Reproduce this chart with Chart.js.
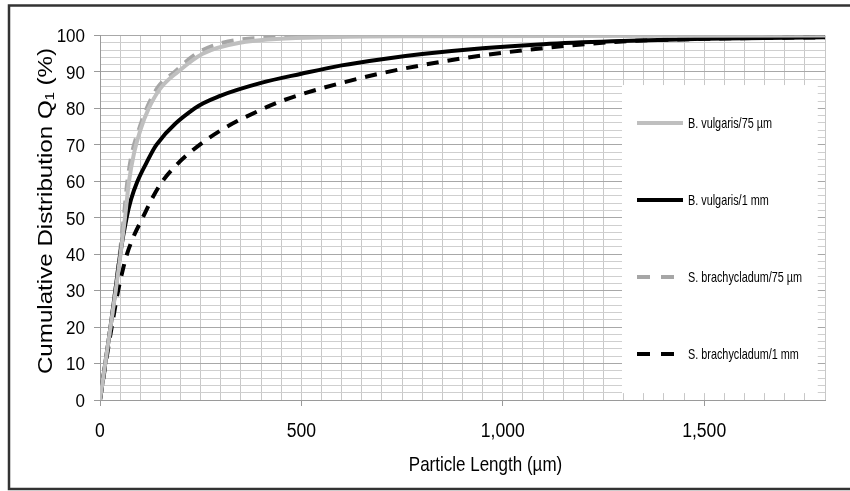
<!DOCTYPE html>
<html><head><meta charset="utf-8">
<script src="https://cdn.jsdelivr.net/npm/chart.js@4/dist/chart.umd.min.js"></script>
<style>html,body{margin:0;padding:0;background:#fff}#wrap{width:850px;height:491px;position:relative}canvas{display:block}</style>
</head><body><div id="wrap"><canvas id="c" width="850" height="491"></canvas></div>
<script>
// ---- data ----
const seriesNames = ['B. vulgaris/75 µm', 'B. vulgaris/1 mm', 'S. brachycladum/75 µm', 'S. brachycladum/1 mm'];

const bv75X = [0, 13, 26, 39, 51, 62, 72, 85, 100, 121, 150, 193, 255, 347, 555, 800, 1800];
const bv75Y = [0, 10, 20, 30, 40, 50, 60, 68, 74, 80, 85.5, 90, 95, 98, 99.5, 99.8, 100];

const bv1X = [0, 13, 26, 38, 50, 66, 77, 93, 115, 140, 235, 300, 400, 500, 600, 700, 800, 950, 1100, 1272, 1500, 1800];
const bv1Y = [0, 10, 20, 30, 40, 50, 55, 60, 65, 70, 80, 83.5, 87, 89.5, 91.8, 93.5, 94.9, 96.5, 97.6, 98.4, 99.1, 99.5];

const sb75X = [0, 13, 26, 38, 49, 59, 68, 80, 96, 116, 145, 185, 239, 305, 440, 700, 1800];
const sb75Y = [0, 10, 20, 30, 40, 50, 60, 68, 74, 80, 86, 90, 95, 98, 99.5, 99.9, 100];

const sb1X = [0, 14, 29, 45, 55, 67, 84, 106, 128, 155, 190, 230, 300, 397, 455, 550, 697, 822, 947, 1115, 1272, 1500, 1800];
const sb1Y = [0, 10, 20, 30, 35, 40, 45, 50, 55, 60, 64.5, 68.5, 74, 79.5, 82.2, 85.5, 89.6, 92.3, 94.5, 96.7, 98.2, 99.1, 99.5];

const xMin = 0, xMax = 1800, xGridStep = 50, xLabelStep = 500;
const yMin = 0, yMax = 100, yGridStep = 2, yLabelStep = 10;
const xTitle = 'Particle Length (µm)';
const yTitle = 'Cumulative Distribution Q₁ (%)';

const FAM = '"Liberation Sans", Arial, sans-serif';

function pts(xs, ys) { return xs.map((x, i) => ({ x: x, y: ys[i] })); }

const datasets = [
  { label: seriesNames[0], data: pts(bv75X, bv75Y), borderColor: '#bfbfbf', borderWidth: 4, borderDash: [] },
  { label: seriesNames[1], data: pts(bv1X, bv1Y), borderColor: '#000000', borderWidth: 4, borderDash: [] },
  { label: seriesNames[2], data: pts(sb75X, sb75Y), borderColor: '#a6a6a6', borderWidth: 4, borderDash: [12, 9] },
  { label: seriesNames[3], data: pts(sb1X, sb1Y), borderColor: '#000000', borderWidth: 4, borderDash: [12, 9] }
].map(d => Object.assign(d, { showLine: true, pointRadius: 0, fill: false, cubicInterpolationMode: 'monotone', borderCapStyle: 'butt' }));

// draw text stretched (sx, sy) with alphabetic baseline at (x, y)
function stretchedText(ctx, text, x, y, size, sx, sy, align, rot) {
  ctx.save();
  ctx.translate(x, y);
  if (rot) ctx.rotate(rot);
  ctx.scale(sx, sy);
  ctx.font = size + 'px ' + FAM;
  ctx.fillStyle = '#000';
  ctx.textAlign = align;
  ctx.textBaseline = 'alphabetic';
  ctx.fillText(text, 0, 0);
  ctx.restore();
}

const frame = {
  id: 'frame',
  beforeDraw(chart) {
    const ctx = chart.ctx; ctx.save(); ctx.fillStyle = '#fff'; ctx.fillRect(0, 0, chart.width, chart.height); ctx.restore();
  },
  afterDraw(chart) {
    const ctx = chart.ctx;
    const xs = chart.scales.x, ys = chart.scales.y;
    xs.ticks.forEach(t => {
      if (t.value % xLabelStep !== 0) return;
      stretchedText(ctx, t.value.toLocaleString('en-US'), xs.getPixelForValue(t.value), 436.7, 17.6, 1, 1.19, 'center');
    });
    ys.ticks.forEach(t => {
      if (t.value % yLabelStep !== 0) return;
      const py = ys.getPixelForValue(t.value);
      stretchedText(ctx, String(t.value), 85, py + 0.716 * 17 * 1.12 / 2, 17, 1, 1.12, 'right');
    });
    stretchedText(ctx, xTitle, 485.5, 471, 17, 1, 1.17, 'center');
    stretchedText(ctx, yTitle, 51.7, 211, 21, 1.15, 1, 'center', -Math.PI / 2);
    ctx.save();
    ctx.strokeStyle = '#333'; ctx.lineWidth = 2.5;
    ctx.beginPath();
    ctx.moveTo(850, 5.5); ctx.lineTo(9, 5.5); ctx.lineTo(9, 489); ctx.lineTo(850, 489);
    ctx.stroke(); ctx.restore();
  }
};

const boxLegend = {
  id: 'boxLegend',
  beforeDatasetsDraw(chart) {
    const a = chart.chartArea, ctx = chart.ctx;
    const w = a.right - a.left, h = a.bottom - a.top;
    const bx = a.left + w * 0.72, by = a.top + h * 0.136;
    const bw = w * 0.27, bh = h * 0.845;
    ctx.save();
    ctx.fillStyle = '#fff'; ctx.fillRect(bx, by, bw, bh);
    const n = chart.data.datasets.length, rowH = bh / n;
    chart.data.datasets.forEach((ds, i) => {
      const cy = by + rowH * (i + 0.5) - 0.5;
      const x0 = bx + 15, x1 = bx + 61;
      ctx.beginPath();
      ctx.strokeStyle = ds.borderColor; ctx.lineWidth = 4; ctx.lineCap = 'butt';
      ctx.setLineDash(ds.borderDash.length ? [13, 11] : []);
      ctx.moveTo(x0, cy); ctx.lineTo(x1, cy); ctx.stroke();
      ctx.setLineDash([]);
      stretchedText(ctx, ds.label, x1 + 5, cy + 0.716 * 10.85 * 1.28 / 2, 10.85, 1, 1.28, 'left');
    });
    ctx.restore();
  }
};

new Chart(document.getElementById('c'), {
  type: 'scatter',
  data: { datasets: datasets },
  plugins: [frame, boxLegend],
  options: {
    responsive: false, animation: false, devicePixelRatio: 1,
    layout: { padding: { top: 35.5, right: 25, left: 0, bottom: 0 } },
    plugins: { legend: { display: false }, tooltip: { enabled: false } },
    scales: {
      x: {
        type: 'linear', min: xMin, max: xMax,
        afterFit: s => { s.height = 91; },
        ticks: {
          stepSize: xGridStep, maxTicksLimit: 1000, autoSkip: false, maxRotation: 0, padding: 10,
          color: 'rgba(0,0,0,0)', font: { family: FAM, size: 17 },
          callback: v => (v % xLabelStep === 0 ? v.toLocaleString('en-US') : '')
        },
        grid: {
          color: '#c8c8c8', lineWidth: 1, tickLength: 6,
          tickColor: c => (c.tick && c.tick.value % xLabelStep === 0 ? '#9a9a9a' : 'rgba(0,0,0,0)')
        },
        border: { display: true, color: '#9a9a9a' },
        title: { display: false, text: xTitle }
      },
      y: {
        type: 'linear', min: yMin, max: yMax,
        afterFit: s => { s.width = 100; },
        ticks: {
          stepSize: yGridStep, maxTicksLimit: 1000, autoSkip: false, padding: 9,
          color: 'rgba(0,0,0,0)', font: { family: FAM, size: 17 },
          callback: v => (v % yLabelStep === 0 ? String(v) : '')
        },
        grid: {
          color: c => (c.tick && c.tick.value % yLabelStep === 0 ? '#a8a8a8' : '#cfcfcf'),
          lineWidth: 1, tickLength: 6,
          tickColor: c => (c.tick && c.tick.value % yLabelStep === 0 ? '#9a9a9a' : 'rgba(0,0,0,0)')
        },
        border: { display: true, color: '#9a9a9a' },
        title: { display: false, text: yTitle }
      }
    }
  }
});
</script>
</body></html>
